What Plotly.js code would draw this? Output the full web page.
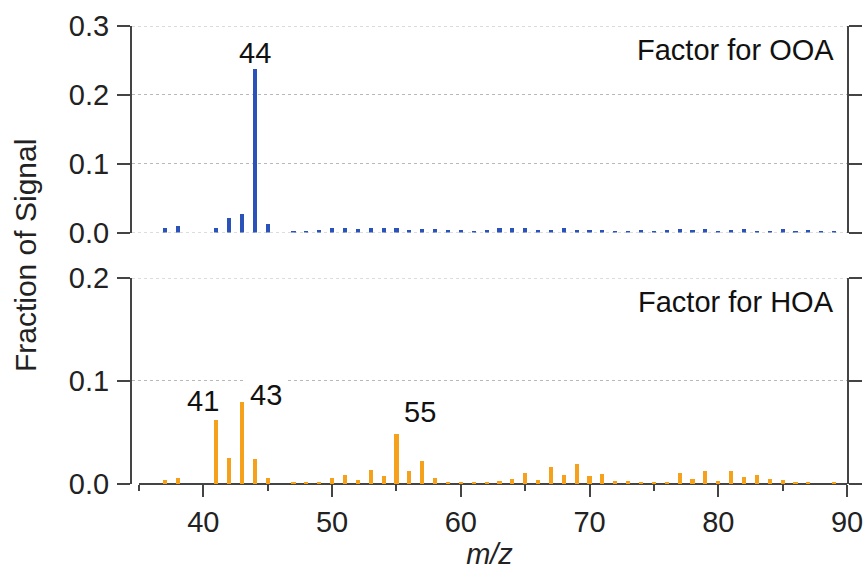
<!DOCTYPE html>
<html>
<head>
<meta charset="utf-8">
<script src="https://cdn.plot.ly/plotly-3.0.1.min.js"></script>
<style>html,body{margin:0;padding:0;background:#fff;}#chart{width:865px;height:573px;}</style>
</head>
<body>
<div id="chart"></div>
<script>
// m/z values
const mz = [37,38,41,42,43,44,45,47,48,49,50,51,52,53,54,55,56,57,58,59,60,61,62,63,64,65,66,67,68,69,70,71,72,73,74,75,76,77,78,79,80,81,82,83,84,85,86,87,88,89];
// Factor for OOA (fraction of signal)
const ooa = [0.006,0.010,0.007,0.021,0.027,0.238,0.013,0.002,0.002,0.003,0.006,0.006,0.005,0.007,0.006,0.007,0.004,0.005,0.005,0.003,0.003,0.002,0.003,0.006,0.006,0.006,0.004,0.004,0.006,0.004,0.003,0.003,0.002,0.002,0.003,0.002,0.003,0.005,0.004,0.005,0.002,0.003,0.005,0.002,0.002,0.005,0.002,0.003,0.002,0.002];
// Factor for HOA (fraction of signal)
const hoa = [0.004,0.0055,0.062,0.025,0.080,0.024,0.0055,0.002,0.0015,0.002,0.006,0.009,0.004,0.0136,0.0075,0.0485,0.013,0.0223,0.006,0.002,0.002,0.0015,0.002,0.003,0.005,0.011,0.004,0.0168,0.0084,0.0194,0.0078,0.0097,0.003,0.0025,0.002,0.0015,0.002,0.0104,0.0045,0.013,0.003,0.0123,0.0071,0.0084,0.0045,0.0039,0.0022,0.0015,0,0.0015];
// labelled peaks
const ooaPeaks = [44];
const hoaPeaks = [41,43,55];
const panelLabels = ["Factor for OOA","Factor for HOA"];
const xTickVals = [40,50,60,70,80,90];
const xRange = [35,90];
const yTopTicks = [0,0.1,0.2,0.3];
const yBotTicks = [0,0.1,0.2];

const FONT = "Liberation Sans, Arial, Helvetica, sans-serif";
const AX = "#444";
const GRID = "#b8b8b8";
const FS = 29;

function val(arr, m){ return arr[mz.indexOf(m)]; }

// plot area spans 715px; the x axis line begins 7px right of the y axis line
const gapFrac = 7/715;
const xStart = xRange[0] - (xRange[1]-xRange[0]) * gapFrac/(1-gapFrac);

const traces = [
  {type:"bar", x:mz, y:ooa, xaxis:"x2", yaxis:"y", marker:{color:"#2b52b8", line:{width:0}}, width:0.32},
  {type:"bar", x:mz, y:hoa, xaxis:"x", yaxis:"y2", marker:{color:"#f6a11c", line:{width:0}}, width:0.32}
];

const yCommon = {
  tickformat:".1f", ticks:"outside", ticklen:13, tickwidth:2, tickcolor:AX,
  showline:true, linecolor:AX, linewidth:2, zeroline:false, mirror:"ticks",
  tickfont:{family:FONT, size:FS, color:"#222"}, ticklabelstandoff:2,
  showgrid:true, gridcolor:GRID, griddash:"dot", gridwidth:1
};

const shapes = [];
// gridlines at the ends of the ranges (Plotly omits these)
[[yTopTicks[0],"y","x2"],[yTopTicks[yTopTicks.length-1],"y","x2"],[yBotTicks[yBotTicks.length-1],"y2","x"]].forEach(function(g){
  shapes.push({type:"line", xref:g[2]+" domain", yref:g[1], x0:0, x1:1, y0:g[0], y1:g[0], layer:"below", line:{color:GRID, width:1, dash:"dot"}});
});
// bottom x axis line starting at the first m/z of the range
shapes.push({type:"line", xref:"x", yref:"y2 domain", x0:xRange[0], x1:xRange[1], y0:0, y1:0, layer:"below", line:{color:AX, width:2}});

const layout = {
  width:865, height:573,
  margin:{l:132, r:18, t:26, b:89},
  paper_bgcolor:"#fff", plot_bgcolor:"rgba(0,0,0,0)",
  showlegend:false,
  font:{family:FONT, size:FS, color:"#222"},
  bargap:0,
  xaxis:{
    domain:[0,1], anchor:"y2", range:[xStart, xRange[1]], tickvals:xTickVals,
    ticks:"outside", ticklen:12, tickwidth:2, tickcolor:AX,
    showline:false, showgrid:false, zeroline:false,
    minor:{tick0:35, dtick:5, ticks:"outside", ticklen:6, tickwidth:2, tickcolor:AX, showgrid:false},
    tickfont:{family:FONT, size:FS, color:"#222"}, ticklabelstandoff:0,
    title:{text:"<i>m/z</i>", font:{family:FONT, size:FS, color:"#222"}, standoff:4}
  },
  xaxis2:{
    domain:[0,1], anchor:"y", matches:"x", showticklabels:false, ticks:"",
    showline:false, showgrid:false, zeroline:false
  },
  yaxis:Object.assign({}, yCommon, {domain:[0.549,1], anchor:"x2", range:[0,0.3], tickvals:yTopTicks}),
  yaxis2:Object.assign({}, yCommon, {domain:[0,0.4498], anchor:"x", range:[0,0.2], tickvals:yBotTicks}),
  shapes:shapes,
  annotations:[
    {text:String(ooaPeaks[0]), xref:"x2", yref:"y", x:ooaPeaks[0], y:val(ooa,ooaPeaks[0]), xanchor:"center", yanchor:"bottom", yshift:-2, showarrow:false, font:{family:FONT,size:FS,color:"#111"}},
    {text:String(hoaPeaks[0]), xref:"x", yref:"y2", x:hoaPeaks[0], y:val(hoa,hoaPeaks[0]), xanchor:"right", yanchor:"bottom", xshift:5, yshift:1, showarrow:false, font:{family:FONT,size:FS,color:"#111"}},
    {text:String(hoaPeaks[1]), xref:"x", yref:"y2", x:hoaPeaks[1], y:val(hoa,hoaPeaks[1]), xanchor:"left", yanchor:"bottom", xshift:3, yshift:-14, bgcolor:"#fff", borderpad:4, showarrow:false, font:{family:FONT,size:FS,color:"#111"}},
    {text:String(hoaPeaks[2]), xref:"x", yref:"y2", x:hoaPeaks[2], y:val(hoa,hoaPeaks[2]), xanchor:"left", yanchor:"bottom", xshift:6, yshift:4, showarrow:false, font:{family:FONT,size:FS,color:"#111"}},
    {text:panelLabels[0], xref:"paper", yref:"paper", x:0.984, y:0.9476, xanchor:"right", yanchor:"middle", showarrow:false, font:{family:FONT,size:FS,color:"#111"}},
    {text:panelLabels[1], xref:"paper", yref:"paper", x:0.984, y:0.397, xanchor:"right", yanchor:"middle", showarrow:false, font:{family:FONT,size:FS,color:"#111"}},
    {text:"Fraction of Signal", xref:"paper", yref:"paper", x:-0.148, y:0.498, xanchor:"center", yanchor:"middle", textangle:-90, showarrow:false, font:{family:FONT,size:30,color:"#222"}}
  ]
};

Plotly.newPlot("chart", traces, layout, {displayModeBar:false, staticPlot:true});
</script>
</body>
</html>
